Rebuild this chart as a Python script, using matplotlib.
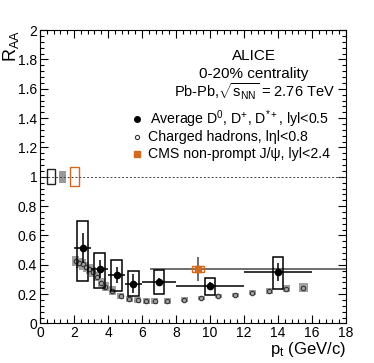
import matplotlib
matplotlib.use("Agg")
from matplotlib import pyplot as plt
from matplotlib.patches import Rectangle
from matplotlib.ticker import MultipleLocator
import numpy as np

plt.rcParams['font.family'] = ['Liberation Sans', 'DejaVu Sans']
plt.rcParams['mathtext.fontset'] = 'custom'
plt.rcParams['mathtext.rm'] = 'Liberation Sans'
plt.rcParams['mathtext.it'] = 'Liberation Sans:italic'

# average D mesons
d_pt = [2.5, 3.5, 4.5, 5.5, 7.0, 10.0, 14.0]
d_pt_err = [0.5, 0.5, 0.5, 0.5, 1.0, 2.0, 2.0]
d_raa = [0.515, 0.372, 0.33, 0.27, 0.283, 0.256, 0.352]
d_stat = [0.10, 0.06, 0.055, 0.065, 0.03, 0.025, 0.06]
d_sys_hi = [0.185, 0.11, 0.10, 0.09, 0.08, 0.055, 0.10]
d_sys_lo = [0.225, 0.13, 0.11, 0.08, 0.08, 0.065, 0.12]

# charged hadrons
h_pt = [2.1, 2.3, 2.5, 2.7, 2.9, 3.1, 3.35, 3.6, 3.85, 4.25, 4.75, 5.25,
        5.75, 6.25, 6.75, 7.5, 8.5, 9.5, 10.5, 11.5, 12.5, 13.5, 14.5, 15.5]
h_raa = [0.425, 0.413, 0.402, 0.386, 0.370, 0.352, 0.318, 0.277, 0.250, 0.222,
         0.190, 0.168, 0.159, 0.152, 0.152, 0.154, 0.163, 0.175, 0.186, 0.195,
         0.209, 0.220, 0.236, 0.245]
h_sys = [0.035, 0.035, 0.035, 0.035, 0.035, 0.035, 0.03, 0.03, 0.03, 0.03,
         0.02, 0.02, 0.02, 0.02, 0.02, 0.02, 0.015, 0.015, 0.015, 0.015,
         0.018, 0.02, 0.025, 0.03]

# CMS non-prompt J/psi
cms_pt = [9.3]
cms_pt_lo = [2.8]
cms_pt_hi = [21.0]
cms_raa = [0.372]
cms_stat = [0.08]
cms_sys = [0.02]

orange = '#d2691e'

fig = plt.figure(figsize=(3.74, 3.63), dpi=100)
ax = fig.add_axes([0.107, 0.109, 0.818, 0.808])

ax.axhline(1.0, color='#444444', lw=0.7, ls=(0, (2, 2)))

# normalisation boxes at 1
ax.add_patch(Rectangle((0.4, 0.95), 0.5, 0.10, fill=False, ec='#222222', lw=1.0))
ax.add_patch(Rectangle((1.13, 0.96), 0.42, 0.08, fc='#999999', ec='none'))
ax.add_patch(Rectangle((1.76, 0.935), 0.55, 0.13, fill=False, ec=orange, lw=1.0))

# charged hadrons
for x, y, s in zip(h_pt, h_raa, h_sys):
    hw = 0.2 if x < 15 else 0.25
    ax.add_patch(Rectangle((x - hw, y - s), 2 * hw, 2 * s, fc='#a0a0a0', ec='none', zorder=2))
ax.plot(h_pt, h_raa, 'o', ms=3.2, mfc='none', mec='#333333', mew=0.8, zorder=3)

# CMS
ax.errorbar(cms_pt, cms_raa, xerr=[cms_pt_lo, cms_pt_hi], yerr=cms_stat, fmt='none',
            ecolor='#555555', elinewidth=1.2, zorder=4)
for x, y, s in zip(cms_pt, cms_raa, cms_sys):
    ax.add_patch(Rectangle((x - 0.35, y - s), 0.7, 2 * s, fill=False, ec=orange, lw=1.0, zorder=5))
ax.plot(cms_pt, cms_raa, 's', ms=4, color=orange, zorder=6)

# D mesons
for x, y, hi, lo in zip(d_pt, d_raa, d_sys_hi, d_sys_lo):
    ax.add_patch(Rectangle((x - 0.3, y - lo), 0.6, hi + lo, fill=False, ec='black', lw=1.1, zorder=5))
ax.errorbar(d_pt, d_raa, xerr=d_pt_err, yerr=d_stat, fmt='o', ms=4.5, color='black',
            ecolor='black', elinewidth=1.1, zorder=6)

ax.set_xlim(0, 18)
ax.set_ylim(0, 2)
ax.xaxis.set_minor_locator(MultipleLocator(0.4))
ax.yaxis.set_minor_locator(MultipleLocator(0.04))
ax.set_xticks(np.arange(0, 19, 2))
ax.set_xticklabels([str(v) for v in range(0, 19, 2)])
ax.set_yticks(np.arange(0, 2.01, 0.2))
ax.set_yticklabels(['0', '0.2', '0.4', '0.6', '0.8', '1', '1.2', '1.4', '1.6', '1.8', '2'])
ax.tick_params(which='both', direction='in', top=True, right=True, labelsize=10, pad=2)
ax.tick_params(which='major', length=6, width=0.8)
ax.tick_params(which='minor', length=3, width=0.8)
for sp in ax.spines.values():
    sp.set_linewidth(0.8)

ax.set_ylabel(r'R$_{\mathrm{AA}}$', fontsize=13, loc='top')
ax.yaxis.set_label_coords(-0.062, 1.0)
ax.set_xlabel(r'p$_{\mathrm{t}}$ (GeV/c)', fontsize=12, loc='right', labelpad=0)

ax.text(0.70, 0.912, 'ALICE', transform=ax.transAxes, ha='center', va='center', fontsize=11)
ax.text(0.70, 0.852, '0-20% centrality', transform=ax.transAxes, ha='center', va='center', fontsize=11)
ax.text(0.70, 0.79, r'Pb-Pb,$\sqrt{\mathrm{s}_{\mathrm{NN}}}$ = 2.76 TeV', transform=ax.transAxes,
        ha='center', va='center', fontsize=10.5)

ax.plot([0.317], [0.697], 'o', ms=4, color='black', transform=ax.transAxes)
ax.plot([0.317], [0.635], 'o', ms=3, mfc='none', mec='#333333', mew=0.8, transform=ax.transAxes)
ax.plot([0.317], [0.577], 's', ms=4, color=orange, transform=ax.transAxes)
ax.text(0.36, 0.697, r'Average D$^{0}$, D$^{+}$, D$^{*+}$, lyl<0.5', transform=ax.transAxes,
        ha='left', va='center', fontsize=10.2)
ax.text(0.354, 0.635, 'Charged hadrons, lηl<0.8', transform=ax.transAxes,
        ha='left', va='center', fontsize=10.2)
ax.text(0.354, 0.577, 'CMS non-prompt J/ψ, lyl<2.4', transform=ax.transAxes,
        ha='left', va='center', fontsize=10.2)

fig.savefig('out.png', dpi=100)
